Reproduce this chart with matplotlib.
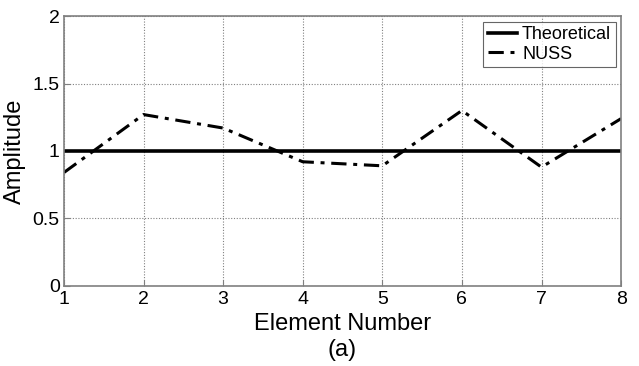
import matplotlib
matplotlib.use("Agg")
import matplotlib.pyplot as plt

elements = [1, 2, 3, 4, 5, 6, 7, 8]
theoretical = [1, 1, 1, 1, 1, 1, 1, 1]
nuss = [0.84, 1.27, 1.17, 0.92, 0.89, 1.30, 0.88, 1.24]
xticks = [1, 2, 3, 4, 5, 6, 7, 8]
yticks = [0, 0.5, 1, 1.5, 2]
ytick_labels = ["0", "0.5", "1", "1.5", "2"]

plt.rcParams["font.family"] = ["Liberation Sans", "DejaVu Sans"]

fig = plt.figure(figsize=(6.39, 3.66), dpi=100)
ax = fig.add_axes([0.100, 0.219, 0.872, 0.737])

ax.plot(elements, theoretical, color="black", lw=2.6, label="Theoretical")
ax.plot(elements, nuss, color="black", lw=2.2, dashes=(5, 2.2, 1.3, 2.2), label="NUSS")

ax.set_xlim(1, 8)
ax.set_ylim(0, 2)
ax.set_xticks(xticks)
ax.set_yticks(yticks)
ax.set_yticklabels(ytick_labels)
ax.tick_params(direction="in", length=4, color="#808080", labelsize=14)
ax.tick_params(axis="x", pad=4)
ax.tick_params(axis="y", pad=3)
for s in ax.spines.values():
    s.set_color("#808080")
    s.set_linewidth(1.2)
ax.grid(True, color="#808080", linestyle=(0, (1, 1.5)), lw=0.8)
ax.set_axisbelow(True)

ax.set_xlabel("Element Number", fontsize=17, labelpad=3)
ax.set_ylabel("Amplitude", fontsize=17, labelpad=5)
fig.text(0.536, 0.043, "(a)", ha="center", va="center", fontsize=17)

leg = ax.legend(loc="upper right", fontsize=13, frameon=True, fancybox=False,
                borderpad=0.25, handlelength=1.6, handletextpad=0.3,
                labelspacing=0.15, borderaxespad=0.3)
leg.get_frame().set_edgecolor("#404040")
leg.get_frame().set_linewidth(0.8)

fig.savefig("out.png", dpi=100)
